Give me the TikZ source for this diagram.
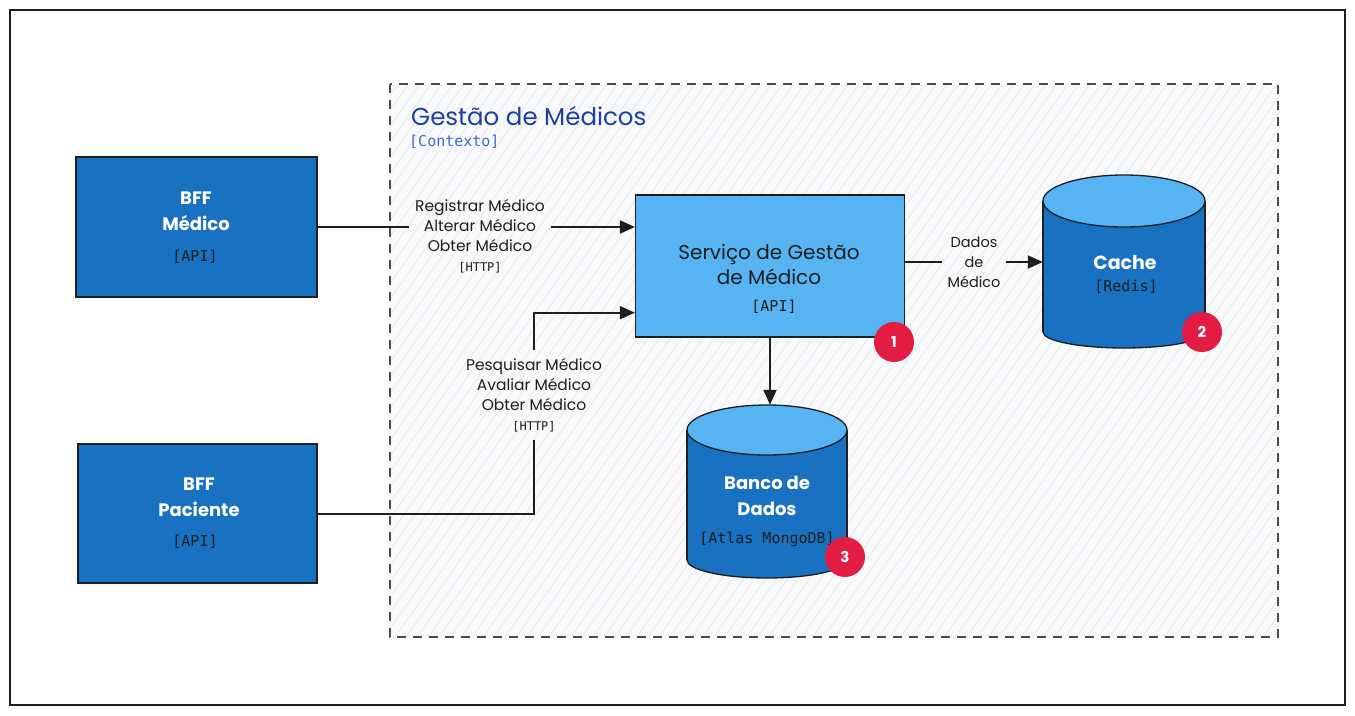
\documentclass[tikz,border=0pt]{standalone}
\usepackage{fontspec}
\setmainfont{Poppins}
\newfontfamily\monof{DejaVu Sans Mono}
\usetikzlibrary{arrows.meta,patterns.meta}
\definecolor{ink}{HTML}{1E1E1E}
\definecolor{darkblue}{HTML}{1971C2}
\definecolor{lightblue}{HTML}{56B4F3}
\definecolor{badgered}{HTML}{E31C43}
\definecolor{titleblue}{HTML}{1E40A0}
\definecolor{ctxblue}{HTML}{3C6EC8}
\definecolor{bgc}{HTML}{F8F9FA}
\definecolor{hatchc}{HTML}{E2E5E8}
\tikzset{
  darkbox/.style={draw=ink, line width=1.3pt, fill=darkblue, inner sep=0pt},
  lightbox/.style={draw=ink, line width=1.3pt, fill=lightblue, inner sep=0pt},
  whitetxt/.style={text=white, font=\fontsize{18}{26}\selectfont\bfseries, align=center, inner sep=0pt},
  blacktxt/.style={text=ink, font=\fontsize{20}{25}\selectfont, align=center, inner sep=0pt},
  monotxt/.style={text=ink, font=\monof\fontsize{15}{18}\selectfont, inner sep=0pt},
  lbl/.style={text=ink, font=\fontsize{15.5}{20}\selectfont, align=center, inner sep=6pt},
  conn/.style={draw=ink, line width=2pt, -{Triangle[length=15pt,width=13pt]}},
  plain/.style={draw=ink, line width=2pt},
  badge/.style={circle, fill=badgered, minimum size=40pt, inner sep=0pt, text=white, font=\fontsize{15}{18}\selectfont\bfseries},
  region/.style={inner sep=0pt}
}
\newcommand{\httptag}{{\monof\fontsize{12}{20}\selectfont[HTTP]}}
\begin{document}
\begin{tikzpicture}[x=1pt,y=-1pt]
\useasboundingbox (0,0) rectangle (1355,715);
\fill[white] (0,0) rectangle (1355,715);
\draw[line width=1.5pt, ink] (10,10) rectangle (1345,705);

% context container
\fill[bgc] (390,84) rectangle (1278,637);
\fill[pattern={Lines[angle=55,distance=9pt,line width=0.6pt]}, pattern color=hatchc] (390,84) rectangle (1278,637);
\draw[line width=1.2pt, draw=ink!80, dash pattern=on 9pt off 7pt] (390,84) rectangle (1278,637);
\node[anchor=west, inner sep=0pt, text=titleblue, font=\fontsize{24.5}{30}\selectfont] (title) at (411,116) {Gestão de Médicos};
\node[anchor=west, inner sep=0pt, text=ctxblue, font=\monof\fontsize{15}{18}\selectfont] (ctx) at (409,142) {[Contexto]};

% BFF boxes
\node[darkbox, minimum width=241pt, minimum height=140pt] (bffm) at (196.5,227) {};
\node[whitetxt] (bffmT) at (196,211) {BFF\\Médico};
\node[monotxt] (bffmA) at (195,257) {[API]};

\node[darkbox, minimum width=239pt, minimum height=139pt] (bffp) at (197.5,513.5) {};
\node[whitetxt] (bffpT) at (199,497) {BFF\\Paciente};
\node[monotxt] (bffpA) at (195,542) {[API]};

% service
\node[lightbox, minimum width=269pt, minimum height=142pt] (serv) at (770,266) {};
\node[blacktxt] (servT) at (769,264.5) {Serviço de Gestão\\de Médico};
\node[monotxt] (servA) at (774,307) {[API]};
\coordinate (sin2) at ([yshift=25pt]serv.south west);

% cache cylinder
\fill[darkblue] (1043,201) rectangle (1205,332);
\fill[darkblue] (1124,332) ellipse [x radius=81, y radius=16];
\begin{scope}
  \clip (1030,332) rectangle (1220,360);
  \draw[ink, line width=1.3pt] (1124,332) ellipse [x radius=81, y radius=16];
\end{scope}
\draw[ink, line width=1.3pt] (1043,201) -- (1043,332);
\draw[ink, line width=1.3pt] (1205,201) -- (1205,332);
\draw[ink, line width=1.3pt, fill=lightblue] (1124,201) ellipse [x radius=81, y radius=26];
\node[region, minimum width=162pt, minimum height=173pt] (cache) at (1124,261.5) {};
\node[whitetxt, font=\fontsize{19}{26}\selectfont\bfseries] (cacheT) at (1125,263) {Cache};
\node[monotxt] (cacheA) at (1126,287) {[Redis]};

% database cylinder
\fill[darkblue] (687,430) rectangle (847,560);
\fill[darkblue] (767,560) ellipse [x radius=80, y radius=18];
\begin{scope}
  \clip (675,560) rectangle (860,590);
  \draw[ink, line width=1.3pt] (767,560) ellipse [x radius=80, y radius=18];
\end{scope}
\draw[ink, line width=1.3pt] (687,430) -- (687,560);
\draw[ink, line width=1.3pt] (847,430) -- (847,560);
\draw[ink, line width=1.3pt, fill=lightblue] (767,430) ellipse [x radius=80, y radius=25];
\node[region, minimum width=160pt, minimum height=173pt] (db) at (767,491.5) {};
\node[whitetxt] (dbT) at (767,495.5) {Banco de\\Dados};
\node[monotxt] (dbA) at (767,539) {[Atlas MongoDB]};

% badges
\node[badge] (b1) at (894,342) {1};
\node[badge] (b2) at (1202,332) {2};
\node[badge] (b3) at (845,557) {3};

% connector labels
\node[lbl] (l1) at (480,236) {Registrar Médico\\Alterar Médico\\Obter Médico\\\httptag};
\node[lbl, inner sep=8pt] (l2) at (534,395) {Pesquisar Médico\\Avaliar Médico\\Obter Médico\\\httptag};
\node[lbl, inner sep=5pt, font=\fontsize{14.5}{20}\selectfont] (l3) at (974,262) {Dados\\de\\Médico};

% connectors
\draw[plain] (bffm.east) -- (bffm.east -| l1.west);
\draw[conn] (l1.east |- bffm.east) -- (serv.west |- bffm.east);

\draw[plain] (bffp.east) -- (l2.south |- bffp.east) -- (l2.south);
\draw[conn] (l2.north) -- (l2.north |- sin2) -- (sin2);

\draw[plain] (serv.east |- l3.west) -- (l3.west);
\draw[conn] (l3.east) -- (cache.west |- l3.east);

\draw[conn] (serv.south) -- (serv.south |- db.north);
\end{tikzpicture}
\end{document}
